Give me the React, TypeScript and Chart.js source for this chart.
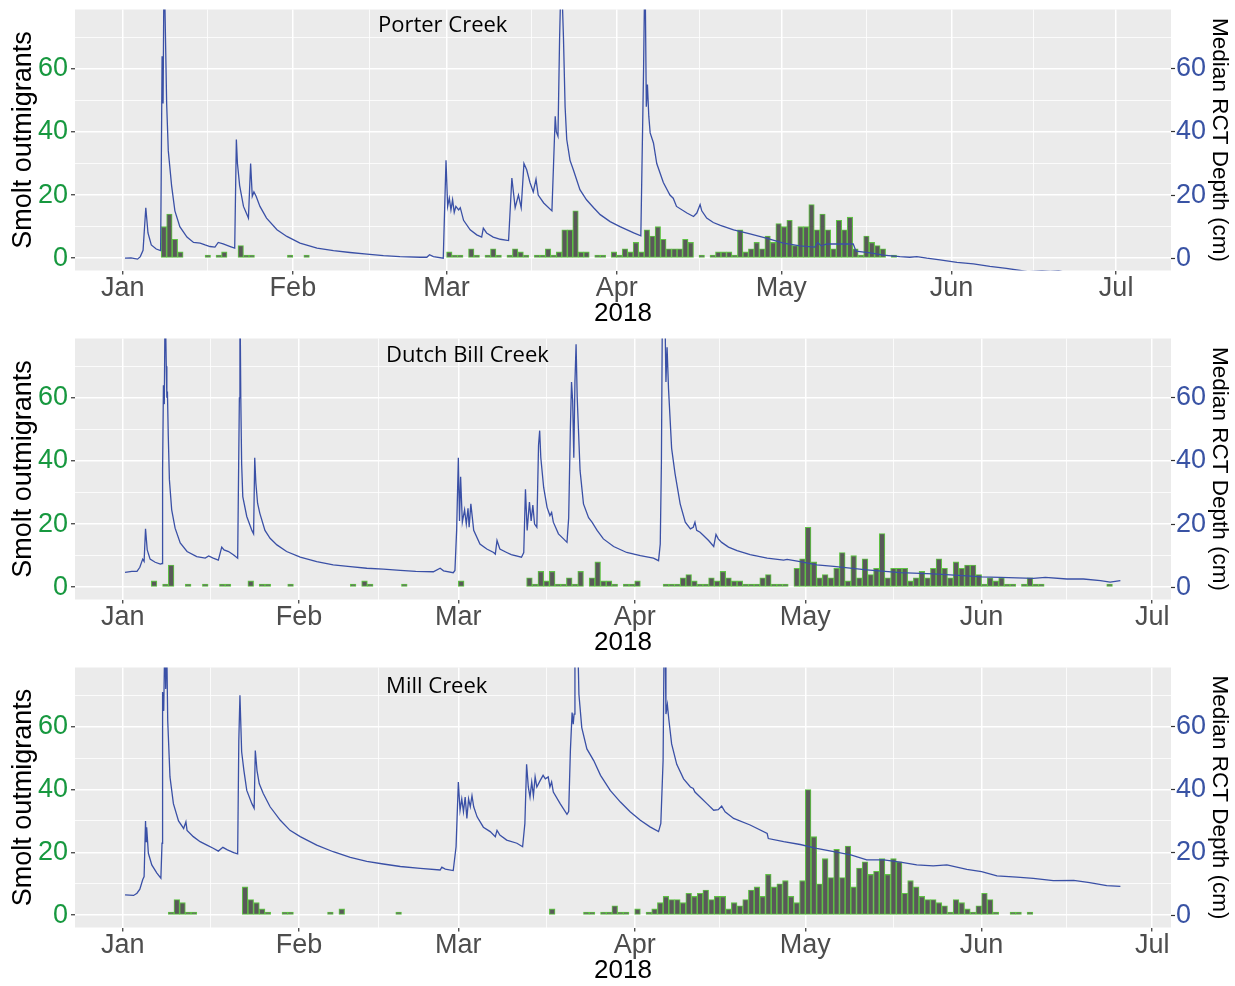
import React, { useEffect, useRef } from 'react';
import { Chart, registerables } from 'chart.js';

Chart.register(...registerables);

const FONT = '"Liberation Sans", Arial, Helvetica, sans-serif';
const TITLE_FONT = '"Open Sans", "Noto Sans", sans-serif';

// x values: days after 1 Jan 2018 (0 = Jan 1)
const monthStartDays = [0, 31, 59, 90, 120, 151, 181, 212];
const monthLabels = ['Jan', 'Feb', 'Mar', 'Apr', 'May', 'Jun', 'Jul', 'Aug'];
const yTickValues = [0, 10, 20, 30, 40, 50, 60, 70];
const yLabelStep = 20;
const xAxisTitle = '2018';
const leftAxisTitle = 'Smolt outmigrants';
const rightAxisTitle = 'Median RCT Depth (cm)';
const panelNames = ['Porter Creek', 'Dutch Bill Creek', 'Mill Creek'];

// daily smolt counts: [day, count]
const porterSmolts: [number, number][] = [
  [7, 10], [8, 14], [9, 6], [10, 2], [15, 1], [17, 1], [18, 2], [21, 4], [22, 1], [23, 1], [30, 1], [33, 1],
  [59, 2], [60, 1], [61, 1], [63, 3], [64, 1], [66, 1], [67, 3], [68, 1], [70, 1], [71, 3], [72, 2], [73, 1],
  [75, 1], [76, 1], [77, 3], [78, 1], [79, 2], [80, 9], [81, 9], [82, 15], [83, 2], [84, 2], [86, 1], [87, 1],
  [89, 2], [90, 1], [91, 3], [92, 2], [93, 5], [94, 2], [95, 9], [96, 7], [97, 10], [98, 6], [99, 3], [100, 3],
  [101, 3], [102, 6], [103, 5], [105, 1], [107, 1], [108, 2], [109, 2], [110, 2], [111, 1], [112, 9], [113, 2],
  [114, 3], [115, 5], [116, 3], [117, 7], [118, 5], [119, 11], [120, 10], [121, 12], [122, 4], [123, 10],
  [124, 10], [125, 17], [126, 9], [127, 14], [128, 9], [129, 3], [130, 12], [131, 9], [132, 13], [133, 3],
  [134, 1], [135, 7], [136, 5], [137, 4], [138, 3], [140, 1],
];

const dutchBillSmolts: [number, number][] = [
  [5, 2], [7, 1], [8, 7], [11, 1], [14, 1], [17, 1], [18, 1], [22, 2], [24, 1], [25, 1], [29, 1], [40, 1],
  [42, 2], [43, 1], [49, 1], [59, 2],
  [71, 3], [72, 1], [73, 5], [74, 2], [75, 5], [76, 1], [77, 1], [78, 3], [79, 1], [80, 5], [82, 3], [83, 8],
  [84, 2], [85, 2], [86, 1], [88, 1], [89, 1], [90, 2],
  [95, 1], [96, 1], [97, 1], [98, 3], [99, 4], [100, 2], [101, 1], [102, 1], [103, 3], [104, 2], [105, 5],
  [106, 3], [107, 2], [108, 2], [109, 1], [110, 1], [111, 1], [112, 3], [113, 4], [114, 1], [115, 1], [116, 1],
  [118, 6], [119, 9], [120, 19], [121, 8], [122, 3], [123, 4], [124, 3], [125, 6], [126, 11], [127, 2],
  [128, 10], [129, 3], [130, 9], [131, 4], [132, 6], [133, 17], [134, 3], [135, 6], [136, 6], [137, 6],
  [138, 2], [139, 3], [140, 5], [141, 3], [142, 6], [143, 9], [144, 6], [145, 3], [146, 8], [147, 6],
  [148, 7], [149, 7], [150, 4], [151, 1], [152, 3], [153, 2], [154, 3], [155, 1], [156, 1],
  [158, 1], [159, 3], [160, 1], [161, 1], [173, 1],
];

const millSmolts: [number, number][] = [
  [8, 1], [9, 5], [10, 4], [11, 1], [12, 1], [21, 9], [22, 5], [23, 4], [24, 2], [25, 1], [28, 1], [29, 1],
  [36, 1], [38, 2], [48, 1], [75, 2], [81, 1], [82, 1], [84, 1], [85, 1], [86, 3], [87, 1], [88, 1], [90, 2],
  [92, 1], [93, 2], [94, 4], [95, 6], [96, 5], [97, 5], [98, 4], [99, 7], [100, 6], [101, 7], [102, 8],
  [103, 5], [104, 6], [105, 6], [106, 2], [107, 4], [108, 3], [109, 5], [110, 8], [111, 9], [112, 6],
  [113, 13], [114, 9], [115, 10], [116, 11], [117, 6], [118, 4], [119, 11], [120, 40], [121, 25], [122, 10],
  [123, 18], [124, 12], [125, 21], [126, 12], [127, 22], [128, 9], [129, 15], [130, 17], [131, 13], [132, 14],
  [133, 18], [134, 13], [135, 18], [136, 17], [137, 7], [138, 11], [139, 9], [140, 6], [141, 5], [142, 5],
  [143, 4], [144, 3], [145, 1], [146, 5], [147, 4], [148, 2], [149, 1], [150, 3], [151, 7], [152, 5],
  [153, 1], [156, 1], [157, 1], [159, 1],
];

// median RCT depth (cm): [day, depth]
const porterDepth: [number, number][] = [
  [0.4, 0], [1.5, 0.1], [2.7, -0.3], [3.2, 0.5], [3.7, 2.5], [4.2, 16], [4.6, 8], [5.2, 4.2], [6.1, 2.9],
  [6.9, 2.4], [7.0, 24], [7.17, 64], [7.35, 49], [7.53, 95], [8.0, 49], [8.3, 34], [8.9, 23], [9.5, 15],
  [10.4, 10], [11.7, 6.7], [12.9, 5], [14.1, 4.8], [15.0, 4.2], [15.9, 3.7], [16.8, 3.5], [17.4, 5],
  [18.3, 4.5], [19.6, 3.7], [20.4, 3.2], [20.7, 37.6], [20.9, 30], [21.3, 23], [22.0, 16.4], [22.9, 12.7],
  [23.3, 30], [23.6, 19.6], [23.9, 21], [24.3, 19.6], [25.0, 16.4], [26.2, 12.7], [28.1, 9], [29.9, 6.9],
  [32.3, 4.8], [35.4, 3.2], [38.4, 2.4], [41.4, 1.8], [44.5, 1.3], [47.5, 0.8], [50.5, 0.5], [54.2, 0.3],
  [55.4, 0.3], [55.9, 1.1], [56.6, 0.5], [58.4, 0], [58.9, 31], [59.2, 16.4], [59.5, 19], [59.8, 15.3],
  [60.1, 18.5], [60.4, 14.5], [60.7, 16.4], [61.2, 15.3], [61.5, 16], [62.1, 12], [63.3, 9], [64.5, 7.4],
  [65.4, 6.7], [65.7, 9.5], [66.3, 8], [67.5, 6.7], [68.8, 6], [70.3, 5.6], [70.9, 25.4], [71.5, 16],
  [72.1, 20], [72.6, 16], [73.1, 30], [73.6, 28], [74.2, 24], [74.8, 21], [75.3, 25], [75.7, 20],
  [76.7, 17.5], [78.2, 15], [78.5, 30], [78.8, 45], [79.0, 40], [79.3, 38.6], [79.6, 70], [79.9, 92],
  [80.3, 70], [80.6, 48], [80.9, 37.6], [81.5, 31], [82.1, 28], [83.3, 21.7], [84.5, 18.5], [85.8, 16],
  [87.0, 13.8], [88.8, 11.6], [90.6, 10], [93.1, 8], [94.4, 7.1], [94.9, 60], [95.15, 95], [95.4, 48],
  [95.6, 55], [95.85, 45], [96.1, 39.7], [96.7, 36.5], [97.3, 30], [98.5, 24], [99.7, 20], [100.3, 19],
  [100.9, 16.4], [102.8, 14.3], [104.0, 13.2], [104.6, 14.3], [105.2, 17], [105.5, 15], [106.4, 12.7],
  [107.6, 11.3], [108.9, 10.4], [111.3, 9], [114.3, 7.7], [117.4, 6.3], [120.4, 4.8], [123.4, 3.9],
  [126.1, 3.5], [126.6, 5], [127.3, 3.9], [128.3, 4.5], [133.1, 4.5], [133.6, 2.2], [136.2, 1.7],
  [138.6, 1], [141.6, 0.5], [143.4, 0.3], [144.7, 0.5], [146.5, 0], [148.9, -0.5], [152.0, -1.3],
  [155.0, -1.8], [158.0, -2.6], [161.0, -3.2], [163.5, -3.9], [165.0, -4.3], [167.5, -3.95], [169.0, -4.2],
  [170.5, -3.95], [172.0, -4.6],
];

const dutchBillDepth: [number, number][] = [
  [0.4, 4.7], [1.6, 5.0], [2.5, 5.0], [3.0, 6.3], [3.5, 8.9], [3.75, 8.2], [4.0, 18.5], [4.3, 11.8],
  [4.8, 8.9], [5.7, 7.9], [6.6, 7.3], [6.9, 7.5], [7.0, 37], [7.15, 64], [7.3, 58], [7.45, 92], [7.65, 70],
  [7.75, 60], [7.85, 62], [8.0, 48], [8.2, 34], [8.6, 24.5], [9.2, 18.7], [10.1, 14], [11.3, 11.3],
  [13.0, 9.7], [14.5, 9.2], [15.1, 9.9], [15.9, 9.2], [16.8, 8.6], [17.4, 12.7], [17.8, 11.8], [18.6, 11.3],
  [19.5, 10.2], [20.2, 9.2], [20.5, 60], [20.6, 95], [20.75, 60], [20.9, 39], [21.1, 28.7], [21.8, 22.4],
  [22.7, 18], [23.0, 16.9], [23.2, 41], [23.4, 33], [23.7, 26.6], [24.1, 23.4], [25.0, 18], [25.9, 15.5],
  [27.1, 13.4], [28.8, 11.3], [31.2, 9.5], [34.1, 8.1], [37.0, 7.1], [40.0, 6.5], [42.9, 6.0], [45.8, 5.7],
  [48.8, 5.3], [51.5, 5.0], [54.6, 4.9], [55.8, 6.0], [56.4, 5.2], [58.1, 4.6], [58.4, 5.3], [58.7, 18],
  [59.0, 41], [59.2, 21], [59.4, 35], [59.7, 20.6], [60.1, 24.5], [60.4, 20], [60.7, 25], [60.9, 19],
  [61.2, 26.4], [61.7, 18], [62.8, 13.7], [64.0, 12.1], [65.2, 11], [65.5, 10.5], [65.8, 14.8], [66.3, 12.1],
  [67.5, 11], [68.3, 10.3], [70.1, 9.5], [70.5, 11], [70.8, 31], [71.1, 18], [71.5, 27], [71.8, 21],
  [72.1, 26], [72.4, 20], [72.8, 19], [73.1, 45], [73.3, 49.6], [73.5, 41], [74.0, 31.6], [74.6, 25.3],
  [75.1, 22.7], [75.4, 23.7], [75.7, 20.6], [76.6, 16.9], [77.5, 15.3], [78.1, 14.2], [78.4, 22],
  [78.7, 50.6], [78.9, 65], [79.1, 59], [79.3, 41], [79.5, 65], [79.7, 77], [79.9, 60], [80.4, 37],
  [81.0, 26.4], [81.9, 22], [82.5, 20.6], [83.4, 18], [84.5, 15.3], [86.3, 12.9], [88.6, 11], [91.0, 10],
  [93.3, 9.2], [94.2, 8.4], [94.5, 13.7], [94.7, 39], [94.9, 95], [95.3, 90], [95.5, 65], [95.7, 76],
  [95.95, 63], [96.5, 44], [97.1, 36], [98.0, 26.4], [98.9, 20.6], [99.8, 18.5], [100.3, 19], [100.6, 20.6],
  [100.9, 18], [101.5, 17.4], [102.1, 16.4], [103.0, 14.8], [103.9, 12.9], [104.3, 16.7], [104.7, 15.3],
  [105.3, 14.2], [106.5, 12.7], [108.0, 11.6], [110.3, 10.3], [113.3, 9.2], [116.2, 8.6], [116.8, 8.8],
  [119.1, 8.1], [122.0, 7.1], [125.0, 6.6], [130.8, 5.5], [136.7, 4.6], [142.5, 4.2], [148.4, 3.6],
  [151.0, 3.3], [154.3, 3.1], [160.1, 2.8], [162.2, 3.1], [166.0, 2.6], [168.9, 2.6], [171.9, 2.1],
  [173.6, 1.6], [175.4, 2.1],
];

const millDepth: [number, number][] = [
  [0.4, 6.5], [1.9, 6.3], [2.5, 7], [3.0, 8.3], [3.5, 11.3], [3.75, 12.3], [4.0, 30], [4.1, 23.4], [4.2, 28],
  [4.5, 19.7], [5.1, 16], [6.0, 13.4], [6.7, 11.8], [6.9, 22.9], [7.0, 71], [7.2, 65], [7.4, 90], [7.55, 72],
  [7.7, 90], [7.9, 62], [8.3, 44], [8.9, 35.5], [9.8, 30], [10.7, 27.6], [11.1, 29.7], [11.3, 27], [12.4, 25],
  [13.6, 23.4], [14.8, 22.3], [15.9, 21.3], [16.8, 20.4], [17.6, 21.6], [18.4, 20.8], [19.5, 19.9],
  [20.2, 19.5], [20.4, 55.5], [20.6, 70], [20.9, 52], [21.3, 46], [21.8, 39.7], [22.7, 35.5], [23.1, 34],
  [23.3, 52.4], [23.6, 46], [24.0, 41.8], [24.7, 38.7], [25.9, 34.5], [27.7, 30.2], [29.4, 27], [31.2, 25],
  [34.1, 22.3], [37.0, 20.2], [40.0, 18.4], [42.9, 17.1], [45.8, 16.3], [48.8, 15.5], [52.3, 14.9],
  [55.8, 14.4], [56.1, 15.3], [56.7, 14.7], [58.1, 14.2], [58.6, 21.8], [59.0, 42.4], [59.3, 33.4],
  [59.6, 37], [59.9, 32.9], [60.2, 37.6], [60.5, 30.8], [60.8, 37], [61.1, 34.5], [61.4, 38], [61.7, 34.5],
  [62.3, 31.3], [63.4, 28], [64.6, 26.6], [65.5, 25], [65.8, 27], [66.3, 25.5], [67.5, 23.9], [69.3, 22.9],
  [70.3, 21.8], [70.7, 29.2], [71.0, 48], [71.3, 40.8], [71.6, 37.6], [71.9, 42.4], [72.2, 38], [72.5, 44],
  [72.8, 40.8], [73.4, 42.9], [73.9, 44.5], [74.3, 43.4], [74.8, 44], [75.1, 40.8], [75.4, 42.4],
  [75.7, 39.2], [76.9, 35.5], [78.1, 32.1], [78.4, 33], [78.7, 52.4], [79.0, 64.5], [79.2, 60.8],
  [79.35, 64], [79.5, 92], [79.9, 95], [80.2, 70.3], [80.7, 59.7], [81.6, 52.9], [82.8, 49.2], [84.0, 44.5],
  [85.7, 39.7], [87.5, 36], [89.2, 32.9], [91.0, 30.2], [92.7, 28.1], [94.2, 26.6], [94.6, 29.2],
  [95.0, 49.2], [95.2, 92], [95.35, 90], [95.5, 64], [95.75, 67], [96.0, 62.4], [96.5, 54.5], [97.4, 48],
  [98.6, 43.4], [99.8, 40.8], [100.3, 40.3], [100.6, 39.2], [101.5, 37.6], [102.7, 35.5], [103.9, 33.4],
  [104.7, 33.6], [105.3, 34.7], [105.9, 32.9], [107.4, 30.8], [110.3, 28.7], [113.3, 26], [113.5, 24.4],
  [116.2, 23.4], [119.1, 22.5], [122.0, 21.3], [125.0, 20.2], [128.0, 19.2], [130.8, 17.6], [133.8, 17.6],
  [136.7, 16.9], [139.6, 16], [142.5, 15.7], [144.9, 16], [148.4, 14.6], [151.0, 13.9], [153.7, 12.5],
  [157.2, 12.1], [160.1, 11.7], [163.6, 11], [167.2, 11.1], [170.0, 10.4], [173.0, 9.4], [175.4, 9.2],
];

const COLORS = {
  panel: '#EBEBEB',
  grid: '#FFFFFF',
  barFill: '#595959',
  barBorder: '#5FC244',
  line: '#3A50A6',
  leftTicks: '#17983F',
  rightTicks: '#3953A4',
  xTicks: '#4D4D4D',
  tickMark: '#333333',
};

type PanelSpec = {
  name: string;
  smolts: [number, number][];
  depth: [number, number][];
  xMin: number;
  xMax: number;
  top: number;
  height: number;
  nameDay: number;
  nameDepth: number;
};

const panels: PanelSpec[] = [
  { name: panelNames[0], smolts: porterSmolts, depth: porterDepth, xMin: -8.7, xMax: 191.0, top: 0, height: 329, nameDay: 46.5, nameDepth: 71.6 },
  { name: panelNames[1], smolts: dutchBillSmolts, depth: dutchBillDepth, xMin: -8.4, xMax: 184.3, top: 329, height: 329, nameDay: 46.3, nameDepth: 71.2 },
  { name: panelNames[2], smolts: millSmolts, depth: millDepth, xMin: -8.4, xMax: 184.3, top: 658, height: 328, nameDay: 46.3, nameDepth: 70.7 },
];

const Y_MIN = -3.9;
const Y_MAX = 78.8;

function xTicksFor(min: number, max: number) {
  const vals: number[] = [];
  for (let i = 0; i < monthStartDays.length; i++) {
    vals.push(monthStartDays[i]);
    if (i + 1 < monthStartDays.length) vals.push((monthStartDays[i] + monthStartDays[i + 1]) / 2);
  }
  return vals.filter((v) => v >= min && v <= max).sort((a, b) => a - b);
}

const isMajorX = (v: number) => monthStartDays.indexOf(v) >= 0;
const isMajorY = (v: number) => v % yLabelStep === 0;

function Panel({ spec }: { spec: PanelSpec }) {
  const ref = useRef<HTMLCanvasElement>(null);
  useEffect(() => {
    const canvas = ref.current;
    if (!canvas) return;
    const bgPlugin = {
      id: 'panelBg',
      beforeDraw(chart: any) {
        const { ctx, chartArea: a } = chart;
        ctx.save();
        ctx.fillStyle = COLORS.panel;
        ctx.fillRect(a.left, a.top, a.right - a.left, a.bottom - a.top);
        ctx.restore();
      },
    };
    const namePlugin = {
      id: 'panelName',
      afterDraw(chart: any) {
        const { ctx } = chart;
        const x = chart.scales.x.getPixelForValue(spec.nameDay);
        const y = chart.scales.y.getPixelForValue(spec.nameDepth);
        ctx.save();
        ctx.font = `22px ${TITLE_FONT}`;
        ctx.fillStyle = '#000000';
        ctx.textAlign = 'left';
        ctx.textBaseline = 'alphabetic';
        ctx.fillText(spec.name, x, y);
        ctx.restore();
      },
    };
    const zeroPad = (s: any) => {
      s.paddingLeft = 0;
      s.paddingRight = 0;
      s.paddingTop = 0;
      s.paddingBottom = 0;
    };
    const yTicks = (s: any) => {
      s.ticks = yTickValues.map((v) => ({ value: v }));
    };
    const chart = new Chart(canvas, {
      type: 'bar',
      data: {
        datasets: [
          {
            type: 'line',
            label: rightAxisTitle,
            data: spec.depth.map(([d, v]) => ({ x: d, y: v })),
            borderColor: COLORS.line,
            borderWidth: 1.3,
            pointRadius: 0,
            fill: false,
            tension: 0,
            order: 0,
            clip: 0,
            xAxisID: 'x',
            yAxisID: 'y',
          } as any,
          {
            type: 'bar',
            label: leftAxisTitle,
            data: spec.smolts.map(([d, c]) => ({ x: d + 0.5, y: c })),
            backgroundColor: COLORS.barFill,
            borderColor: COLORS.barBorder,
            borderWidth: 1.1,
            borderSkipped: false,
            barPercentage: 1,
            categoryPercentage: 1,
            order: 1,
            clip: 0,
            xAxisID: 'x',
            yAxisID: 'y',
          } as any,
        ],
      },
      options: {
        responsive: false,
        maintainAspectRatio: false,
        animation: false,
        devicePixelRatio: 1,
        events: [],
        layout: { padding: { top: 9.5, left: 0, right: 0, bottom: 0 } },
        plugins: { legend: { display: false }, tooltip: { enabled: false }, title: { display: false } },
        scales: {
          x: {
            type: 'linear',
            position: 'bottom',
            min: spec.xMin,
            max: spec.xMax,
            offset: false,
            bounds: 'data',
            afterBuildTicks: (s: any) => {
              s.ticks = xTicksFor(spec.xMin, spec.xMax).map((v) => ({ value: v }));
            },
            afterFit: (s: any) => {
              s.height = 58.5;
              zeroPad(s);
            },
            border: { display: false },
            grid: {
              offset: false,
              color: COLORS.grid,
              lineWidth: (c: any) => (isMajorX(c.tick?.value) ? 1.5 : 0.8),
              drawTicks: true,
              tickLength: 4,
              tickWidth: 1.2,
              tickColor: (c: any) => (isMajorX(c.tick?.value) ? COLORS.tickMark : 'rgba(0,0,0,0)'),
            },
            ticks: {
              autoSkip: false,
              maxRotation: 0,
              minRotation: 0,
              padding: 1,
              color: COLORS.xTicks,
              font: { family: FONT, size: 27, lineHeight: 1 },
              callback: (v: any) => {
                const i = monthStartDays.indexOf(Number(v));
                return i >= 0 ? monthLabels[i] : '';
              },
            },
            title: {
              display: true,
              text: xAxisTitle,
              color: '#000000',
              font: { family: FONT, size: 26, lineHeight: 1.2 },
              padding: { top: 0, bottom: 0 },
            },
          },
          y: {
            type: 'linear',
            position: 'left',
            min: Y_MIN,
            max: Y_MAX,
            bounds: 'data',
            afterBuildTicks: yTicks,
            afterFit: (s: any) => {
              s.width = 75;
              zeroPad(s);
            },
            border: { display: false },
            grid: {
              color: COLORS.grid,
              lineWidth: (c: any) => (isMajorY(c.tick?.value) ? 1.5 : 0.8),
              drawTicks: true,
              tickLength: 4,
              tickWidth: 1.2,
              tickColor: (c: any) => (isMajorY(c.tick?.value) ? COLORS.tickMark : 'rgba(0,0,0,0)'),
            },
            ticks: {
              autoSkip: false,
              padding: 3,
              color: COLORS.leftTicks,
              font: { family: FONT, size: 27, lineHeight: 1 },
              callback: (v: any) => (isMajorY(Number(v)) ? String(v) : ''),
            },
            title: {
              display: true,
              text: leftAxisTitle,
              color: '#000000',
              font: { family: FONT, size: 27, lineHeight: 1.2 },
              padding: { top: 7, bottom: 0 },
            },
          },
          y2: {
            type: 'linear',
            position: 'right',
            min: Y_MIN,
            max: Y_MAX,
            bounds: 'data',
            afterBuildTicks: yTicks,
            afterFit: (s: any) => {
              s.width = 64;
              zeroPad(s);
            },
            border: { display: false },
            grid: {
              drawOnChartArea: false,
              drawTicks: true,
              tickLength: 4,
              tickWidth: 1.2,
              tickColor: (c: any) => (isMajorY(c.tick?.value) ? COLORS.tickMark : 'rgba(0,0,0,0)'),
            },
            ticks: {
              autoSkip: false,
              padding: 1,
              color: COLORS.rightTicks,
              font: { family: FONT, size: 27, lineHeight: 1 },
              callback: (v: any) => (isMajorY(Number(v)) ? String(v) : ''),
            },
            title: {
              display: true,
              text: rightAxisTitle,
              color: '#000000',
              font: { family: FONT, size: 22.5, lineHeight: 1.2 },
              padding: { top: 2.5, bottom: 0 },
            },
          },
        },
      } as any,
      plugins: [bgPlugin, namePlugin],
    });
    return () => chart.destroy();
  }, [spec]);
  return (
    <canvas
      ref={ref}
      width={1235}
      height={spec.height}
      style={{ position: 'absolute', left: 0, top: spec.top, width: 1235, height: spec.height, display: 'block' }}
    />
  );
}

export default function App() {
  return (
    <div style={{ position: 'absolute', left: 0, top: 0, width: 1235, height: 986, background: '#FFFFFF', overflow: 'hidden' }}>
      {panels.map((p) => (
        <Panel key={p.name} spec={p} />
      ))}
    </div>
  );
}
